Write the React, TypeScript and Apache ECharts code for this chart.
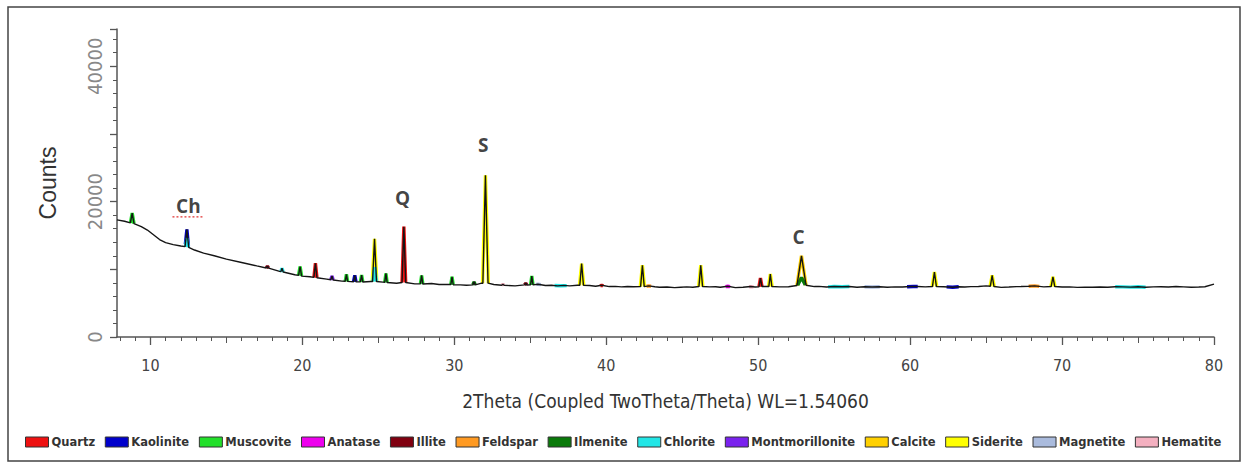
import React, { useEffect, useRef } from "react";
import * as echarts from "echarts";

// ---- axis ticks / labels ----
const xLabelValues = [10, 20, 30, 40, 50, 60, 70, 80];
const xMidTicks = [15, 25, 35, 45, 55, 65, 75];
const xMinorTicks = [
  8, 9, 11, 12, 13, 14, 16, 17, 18, 19, 21, 22, 23, 24, 26, 27, 28, 29, 31, 32, 33, 34, 36, 37, 38, 39,
  41, 42, 43, 44, 46, 47, 48, 49, 51, 52, 53, 54, 56, 57, 58, 59, 61, 62, 63, 64, 66, 67, 68, 69,
  71, 72, 73, 74, 76, 77, 78, 79,
];
const yLabelValues = [0, 20000, 40000];

// ---- measured pattern (black) ----
const measured: number[][] = [
  [7.8, 17300], [8.3, 17100], [8.68, 16850], [8.8, 18300], [8.92, 16750], [9.4, 16300], [9.8, 15800],
  [10.2, 15100], [10.6, 14400], [11.0, 13950], [11.5, 13650], [12.0, 13450], [12.28, 13350], [12.4, 15900],
  [12.52, 13250], [12.9, 12850], [13.5, 12400], [14.2, 12000], [15.0, 11500], [16.0, 11000], [17.0, 10500],
  [17.62, 10200], [17.7, 10450], [17.78, 10170], [18.5, 9700], [18.58, 9650], [18.66, 10150], [18.74, 9600],
  [19.5, 9200], [19.75, 9100], [19.85, 10400], [19.95, 9000], [20.5, 8900], [20.76, 8800], [20.86, 10900],
  [20.96, 8750], [21.6, 8550], [21.87, 8450], [21.95, 9000], [22.03, 8420], [22.6, 8250], [22.82, 8230],
  [22.9, 9250], [22.98, 8220], [23.37, 8170], [23.45, 9100], [23.53, 8160], [23.82, 8140], [23.9, 9150],
  [23.98, 8120], [24.5, 8200], [24.62, 8200], [24.75, 14500], [24.88, 8200], [25.3, 8100], [25.42, 8080],
  [25.5, 9400], [25.58, 8050], [26.2, 7950], [26.56, 8050], [26.68, 16300], [26.8, 8050], [27.4, 7850],
  [27.77, 7850], [27.85, 9100], [27.93, 7820], [28.5, 7900], [29.0, 7750], [29.77, 7750], [29.85, 8900],
  [29.93, 7720], [30.4, 7700], [30.8, 7650], [31.22, 7700], [31.3, 8150], [31.38, 7700], [31.8, 7950],
  [31.88, 7950], [32.05, 23900], [32.22, 7950], [32.6, 7750], [33.12, 7650], [33.2, 7800], [33.28, 7640],
  [34.0, 7550], [34.62, 7700], [34.7, 7950], [34.78, 7680], [35.02, 7700], [35.1, 9000], [35.18, 7700],
  [35.5, 7800], [36.0, 7600], [36.4, 7650], [36.8, 7550], [37.2, 7620], [37.6, 7560], [38.1, 7650],
  [38.26, 7650], [38.38, 10850], [38.5, 7650], [38.9, 7600], [39.3, 7500], [39.7, 7650], [40.2, 7450],
  [40.6, 7480], [41.0, 7400], [41.4, 7460], [41.8, 7420], [42.26, 7450], [42.38, 10600], [42.5, 7450],
  [42.8, 7550], [43.2, 7420], [43.5, 7350], [44.0, 7380], [44.5, 7300], [44.9, 7360], [45.3, 7400],
  [45.7, 7350], [46.1, 7450], [46.22, 10600], [46.34, 7450], [46.8, 7400], [47.2, 7430], [47.5, 7350],
  [48.0, 7500], [48.5, 7300], [49.0, 7360], [49.5, 7450], [49.8, 7380], [50.05, 7420], [50.15, 8700],
  [50.25, 7450], [50.7, 7450], [50.8, 9300], [50.9, 7450], [51.4, 7400], [52.0, 7420], [52.55, 7600],
  [52.85, 12000], [53.15, 7650], [53.7, 7450], [54.0, 7480], [54.5, 7380], [55.0, 7450], [55.5, 7420],
  [56.0, 7460], [56.5, 7350], [57.0, 7420], [57.5, 7380], [58.0, 7430], [58.5, 7340], [59.0, 7400],
  [59.5, 7380], [60.0, 7450], [60.5, 7470], [61.0, 7400], [61.47, 7450], [61.6, 9600], [61.73, 7450],
  [62.2, 7420], [62.8, 7350], [63.2, 7420], [63.6, 7380], [64.0, 7440], [64.5, 7450], [65.0, 7550],
  [65.28, 7500], [65.4, 9100], [65.52, 7450], [66.0, 7330], [66.5, 7380], [67.0, 7440], [67.3, 7450],
  [67.8, 7500], [68.2, 7550], [68.8, 7400], [69.28, 7450], [69.4, 8900], [69.52, 7450], [70.0, 7380],
  [70.5, 7400], [71.0, 7330], [71.5, 7360], [72.0, 7340], [72.5, 7380], [73.0, 7360], [73.5, 7420],
  [74.0, 7400], [74.5, 7370], [75.0, 7420], [75.5, 7350], [76.0, 7400], [76.5, 7430], [77.0, 7380],
  [77.5, 7450], [78.0, 7400], [78.5, 7350], [79.0, 7380], [79.4, 7420], [80.0, 7800],
];

// ---- phase-coloured peak segments ----
const quartzPeaks = [
  [[20.76, 8800], [20.86, 10900], [20.96, 8750]],
  [[26.56, 8050], [26.68, 16300], [26.8, 8050]],
  [[39.6, 7550], [39.7, 7650], [39.8, 7520]],
  [[50.05, 7420], [50.15, 8700], [50.25, 7450]],
];
const kaolinitePeaks = [
  [[12.3, 13700], [12.4, 15900], [12.5, 13500]],
  [[23.37, 8170], [23.45, 9100], [23.53, 8160]],
  [[59.8, 7420], [60.2, 7460], [60.5, 7470]],
  [[62.4, 7400], [62.8, 7350], [63.2, 7420]],
];
const muscovitePeaks = [
  [[8.68, 16850], [8.8, 18300], [8.92, 16750]],
  [[19.75, 9100], [19.85, 10400], [19.95, 9000]],
  [[22.82, 8230], [22.9, 9250], [22.98, 8220]],
  [[23.82, 8140], [23.9, 9150], [23.98, 8120]],
  [[25.42, 8080], [25.5, 9400], [25.58, 8050]],
  [[27.77, 7850], [27.85, 9100], [27.93, 7820]],
  [[29.77, 7750], [29.85, 8900], [29.93, 7720]],
  [[35.02, 7700], [35.1, 9000], [35.18, 7700]],
];
const anatasePeaks = [
  [[47.85, 7440], [48.0, 7500], [48.15, 7440]],
];
const illitePeaks = [
  [[17.62, 10200], [17.7, 10450], [17.78, 10170]],
  [[34.62, 7700], [34.7, 7950], [34.78, 7680]],
];
const feldsparPeaks = [
  [[42.65, 7500], [42.8, 7550], [42.95, 7500]],
  [[67.8, 7500], [68.2, 7550], [68.5, 7480]],
];
const ilmenitePeaks = [
  [[31.22, 7700], [31.3, 8150], [31.38, 7700]],
  [[52.6, 7650], [52.85, 8800], [53.1, 7680]],
];
const chloritePeaks = [
  [[12.3, 13330], [12.4, 14600], [12.5, 13270]],
  [[18.58, 9650], [18.66, 10150], [18.74, 9600]],
  [[24.64, 8200], [24.76, 10300], [24.88, 8200]],
  [[36.6, 7600], [37.0, 7580], [37.4, 7590]],
  [[54.6, 7400], [55.0, 7450], [55.5, 7420], [56.0, 7460]],
  [[73.5, 7420], [74.0, 7400], [74.5, 7370], [75.0, 7420], [75.5, 7350]],
];
const montmorillonitePeaks = [
  [[21.87, 8450], [21.95, 9000], [22.03, 8420]],
];
const calcitePeaks = [
  [[52.55, 7600], [52.85, 12000], [53.15, 7650]],
];
const sideritePeaks = [
  [[24.6, 8200], [24.75, 14500], [24.9, 8200]],
  [[31.86, 7950], [32.05, 23900], [32.24, 7950]],
  [[38.24, 7650], [38.38, 10850], [38.52, 7650]],
  [[42.24, 7450], [42.38, 10600], [42.52, 7450]],
  [[46.08, 7450], [46.22, 10600], [46.36, 7450]],
  [[50.68, 7450], [50.8, 9300], [50.92, 7450]],
  [[61.45, 7450], [61.6, 9600], [61.75, 7450]],
  [[65.26, 7500], [65.4, 9100], [65.54, 7450]],
  [[69.26, 7450], [69.4, 8900], [69.54, 7450]],
];
const magnetitePeaks = [
  [[35.4, 7760], [35.5, 7800], [35.7, 7740]],
  [[57.0, 7420], [57.5, 7380], [58.0, 7430]],
];
const hematitePeaks = [
  [[33.12, 7650], [33.2, 7800], [33.28, 7640]],
  [[49.4, 7430], [49.5, 7450], [49.7, 7400]],
];

const phaseNames = [
  "Quartz", "Kaolinite", "Muscovite", "Anatase", "Illite", "Feldspar", "Ilmenite",
  "Chlorite", "Montmorillonite", "Calcite", "Siderite", "Magnetite", "Hematite",
];
const phaseColors = [
  "#ee1111", "#0000cc", "#22e02a", "#ee00ee", "#800010", "#ff9a22", "#0a7a0a",
  "#22e6e6", "#7a22ee", "#ffd000", "#ffff00", "#aabbdd", "#f4b0c0",
];
const phasePeaks = [
  quartzPeaks, kaolinitePeaks, muscovitePeaks, anatasePeaks, illitePeaks, feldsparPeaks, ilmenitePeaks,
  chloritePeaks, montmorillonitePeaks, calcitePeaks, sideritePeaks, magnetitePeaks, hematitePeaks,
];

// ---- peak annotations ----
const peakLabelTexts = ["Ch", "Q", "S", "C"];
const peakLabelPos = [[12.5, 19300], [26.6, 20600], [31.9, 28400], [52.65, 14700]];
const underlineCh = [[11.45, 17750], [13.45, 17750]];

const narrowFont = "'Liberation Sans Narrow','DejaVu Sans Condensed','Roboto Condensed',Roboto,sans-serif";

export default function App() {
  const ref = useRef<HTMLDivElement>(null);
  useEffect(() => {
    if (!ref.current) return;
    const chart = echarts.init(ref.current, null, { renderer: "svg" });

    const series: any[] = [];
    const order = [10, 9, 0, 1, 2, 3, 4, 5, 6, 7, 8, 11, 12];
    order.forEach((i) => {
      phasePeaks[i].forEach((seg) => {
        series.push({
          type: "line",
          name: phaseNames[i],
          data: seg,
          symbol: "none",
          color: phaseColors[i],
          itemStyle: { color: phaseColors[i] },
          lineStyle: { color: phaseColors[i], width: 3.4 },
          silent: true,
          z: 2,
        });
      });
    });
    series.push({
      type: "line",
      name: "measured",
      data: measured,
      symbol: "none",
      lineStyle: { color: "#151515", width: 1.4 },
      silent: true,
      z: 3,
    });
    series.push({
      type: "line",
      name: "underline",
      data: underlineCh,
      symbol: "none",
      lineStyle: { color: "#e03030", width: 1.3, type: [2, 2] },
      silent: true,
      z: 4,
    });
    series.push({
      type: "scatter",
      name: "labels",
      data: peakLabelPos,
      symbolSize: 1,
      itemStyle: { color: "rgba(0,0,0,0)" },
      silent: true,
      z: 5,
      label: {
        show: true,
        position: "inside",
        formatter: (p: any) => peakLabelTexts[p.dataIndex],
        fontFamily: "Open Sans",
        fontWeight: "bold",
        fontSize: 19,
        color: "#111",
      },
    });

    const baseX = {
      type: "value",
      min: 7.8,
      max: 80,
      gridIndex: 0,
      position: "bottom",
      splitLine: { show: false },
    };

    chart.setOption({
      animation: false,
      graphic: [
        {
          type: "rect",
          silent: true,
          shape: { x: 8, y: 7, width: 1232, height: 454 },
          style: { fill: "none", stroke: "#444", lineWidth: 1.5 },
        },
      ],
      legend: {
        data: phaseNames,
        left: 20,
        top: 431,
        icon: "rect",
        itemWidth: 23,
        itemHeight: 10,
        itemGap: 9.7,
        selectedMode: false,
        itemStyle: { borderColor: "#333", borderWidth: 1 },
        textStyle: { fontFamily: "DejaVu Sans", fontWeight: "bold", fontSize: 11.5, color: "#333", padding: [0, 0, 0, -2] },
      },
      grid: { left: 117, right: 33, top: 29, bottom: 131, containLabel: false },
      xAxis: [
        {
          ...baseX,
          name: "2Theta (Coupled TwoTheta/Theta) WL=1.54060",
          nameLocation: "middle",
          nameGap: 54,
          nameTextStyle: { fontFamily: narrowFont, fontSize: 19, color: "#333" },
          axisLine: { show: true, lineStyle: { color: "#555", width: 1.5 } },
          axisTick: { show: true, customValues: xLabelValues, length: 8, lineStyle: { color: "#555", width: 1.3 } },
          axisLabel: {
            show: true,
            customValues: xLabelValues,
            margin: 20,
            fontFamily: narrowFont,
            fontSize: 16,
            color: "#444",
          },
        },
        {
          ...baseX,
          axisLine: { show: false },
          axisTick: { show: true, customValues: xMidTicks, length: 6, lineStyle: { color: "#555", width: 1 } },
          axisLabel: { show: false },
        },
        {
          ...baseX,
          axisLine: { show: false },
          axisTick: { show: true, customValues: xMinorTicks, length: 4, lineStyle: { color: "#555", width: 1 } },
          axisLabel: { show: false },
        },
      ],
      yAxis: {
        type: "value",
        min: 0,
        max: 45500,
        interval: 10000,
        name: "Counts",
        nameLocation: "middle",
        nameRotate: 90,
        nameGap: 58,
        nameTextStyle: { fontFamily: "Liberation Sans", fontSize: 23, color: "#333" },
        splitLine: { show: false },
        axisLine: { show: true, lineStyle: { color: "#555", width: 1.5 } },
        axisTick: { show: true, length: 7, lineStyle: { color: "#555", width: 1.3 } },
        minorTick: { show: true, splitNumber: 5, length: 4, lineStyle: { color: "#555", width: 1 } },
        axisLabel: {
          show: true,
          customValues: yLabelValues,
          rotate: 90,
          margin: 12,
          formatter: (v: number) => String(v),
          fontFamily: narrowFont,
          fontSize: 20,
          color: "#888",
        },
      },
      series,
    });
    return () => chart.dispose();
  }, []);
  return <div ref={ref} style={{ position: "absolute", left: 0, top: 0, width: 1247, height: 468 }} />;
}
